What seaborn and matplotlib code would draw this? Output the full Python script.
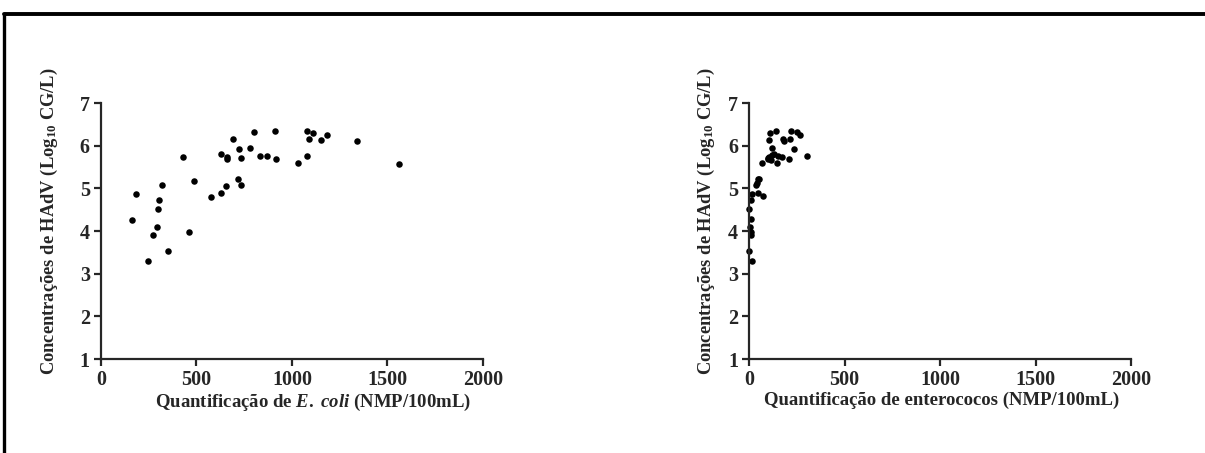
import matplotlib.pyplot as plt
from matplotlib.lines import Line2D
import pandas as pd
import seaborn as sns

# HAdV concentration (log10 GC/L) vs E. coli
ecoli_x = [161, 185, 248, 270, 291, 300, 305, 319, 351, 431, 459, 489, 574, 628, 630, 656, 658, 661,
           689, 719, 722, 731, 731, 782, 801, 831, 871, 913, 914, 1030, 1080, 1080, 1091, 1112, 1152,
           1182, 1342, 1562]
ecoli_y = [4.27, 4.87, 3.30, 3.91, 4.09, 4.52, 4.72, 5.08, 3.54, 5.74, 3.98, 5.18, 4.80, 5.80, 4.89,
           5.05, 5.74, 5.69, 6.15, 5.22, 5.92, 5.08, 5.71, 5.94, 6.32, 5.77, 5.77, 6.34, 5.68, 5.59,
           6.34, 5.75, 6.15, 6.30, 6.13, 6.26, 6.12, 5.58]

# HAdV concentration vs enterococci
entero_x = [17, 0, 9, 5, 12, 0, 12, 16, 49, 72, 37, 40, 49, 70, 101, 106, 115, 122, 132, 148, 152,
            171, 122, 103, 110, 140, 180, 181, 209, 214, 220, 234, 249, 265, 305, 8, 52, 100]
entero_y = [3.30, 3.54, 3.91, 4.09, 4.28, 4.52, 4.72, 4.87, 4.88, 4.81, 5.08, 5.13, 5.21, 5.59, 5.69,
            5.74, 5.66, 5.78, 5.80, 5.59, 5.76, 5.74, 5.94, 6.13, 6.30, 6.34, 6.15, 6.12, 5.69, 6.15,
            6.34, 5.92, 6.32, 6.26, 5.77, 3.98, 5.22, 5.72]

x_ticks = [0, 500, 1000, 1500, 2000]
y_ticks = [1, 2, 3, 4, 5, 6, 7]

sns.set_style('ticks')
plt.rcParams['font.family'] = ['Liberation Serif', 'DejaVu Serif']
plt.rcParams['font.weight'] = 'bold'
plt.rcParams['mathtext.fontset'] = 'custom'
plt.rcParams['mathtext.rm'] = 'Liberation Serif:bold'
plt.rcParams['mathtext.it'] = 'Liberation Serif:italic:bold'
plt.rcParams['mathtext.bf'] = 'Liberation Serif:bold'

fig = plt.figure(figsize=(12.05, 4.53), dpi=100)
ax1 = fig.add_axes([0.0838, 0.2075, 0.317, 0.565])
ax2 = fig.add_axes([0.6216, 0.2075, 0.317, 0.565])

df1 = pd.DataFrame({'x': ecoli_x, 'y': ecoli_y})
df2 = pd.DataFrame({'x': entero_x, 'y': entero_y})

ylabel = 'Concentrações de HAdV (Log$_{10}$ CG/L)'
panels = [
    (ax1, df1, 'Quantificação de $\\mathit{E.}$ $\\mathit{coli}$ (NMP/100mL)', 0.555, -0.108),
    (ax2, df2, 'Quantificação de enterococos (NMP/100mL)', 0.505, -0.083),
]

for ax, df, xlabel, xlab_pos, ylab_pos in panels:
    sns.scatterplot(data=df, x='x', y='y', ax=ax, color='black', s=22, linewidth=0, clip_on=False)
    ax.set_xlim(0, 2000)
    ax.set_ylim(1, 7)
    ax.set_xticks(x_ticks)
    ax.set_yticks(y_ticks)
    ax.tick_params(axis='both', length=5, width=1.6, labelsize=14.5, pad=3)
    for lbl in ax.get_xticklabels() + ax.get_yticklabels():
        lbl.set_fontweight('bold')
    for side in ['left', 'bottom']:
        ax.spines[side].set_linewidth(1.6)
    sns.despine(ax=ax)
    ax.set_xlabel(xlabel, fontsize=13.5, fontweight='bold', labelpad=1)
    ax.xaxis.label.set_x(xlab_pos)
    ax.set_ylabel(ylabel, fontsize=13.3, fontweight='bold')
    ax.yaxis.set_label_coords(ylab_pos, 0.54)

# frame lines along the top and left edge
fig.add_artist(Line2D([0.003, 1.0], [0.968, 0.968], color='black', linewidth=2.8,
                      transform=fig.transFigure))
fig.add_artist(Line2D([0.0035, 0.0035], [0.0, 0.968], color='black', linewidth=2.4,
                      transform=fig.transFigure))

fig.savefig('out.png', dpi=100)
